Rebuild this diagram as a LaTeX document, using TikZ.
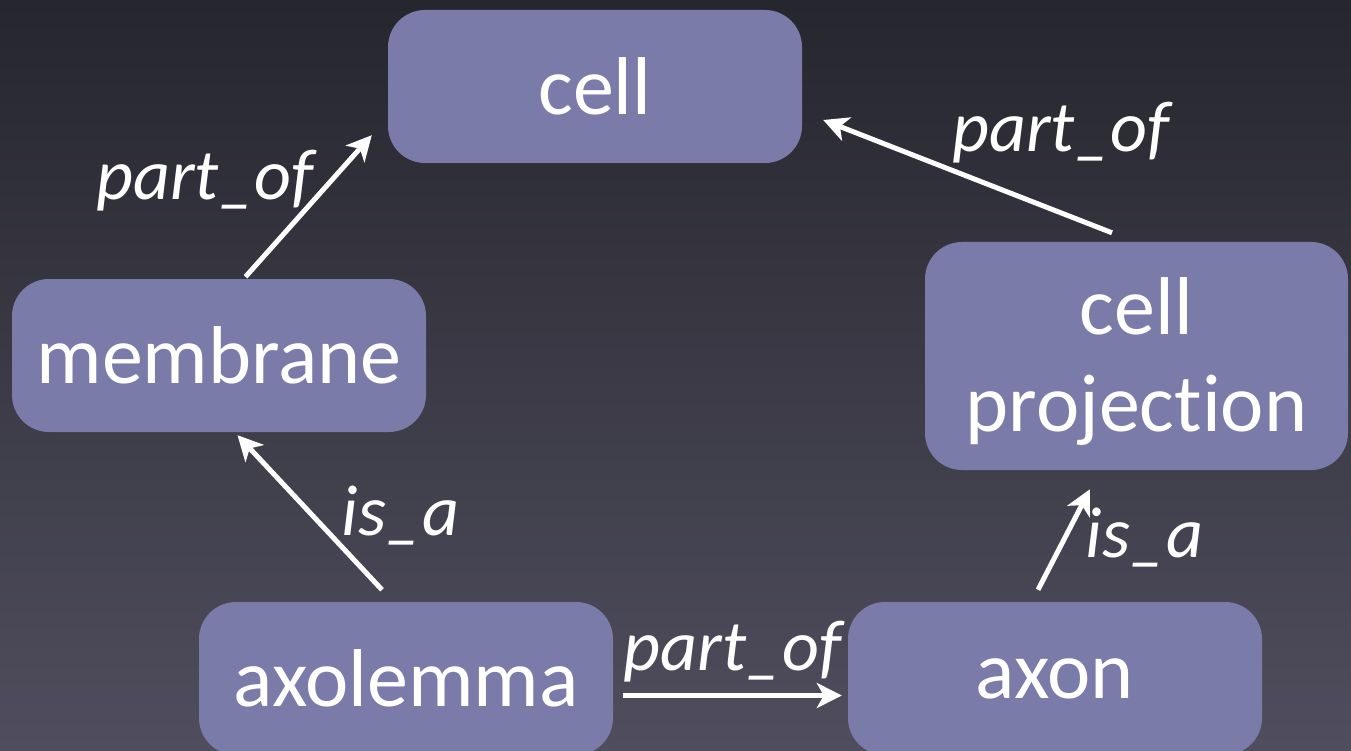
\documentclass[tikz,border=0pt]{standalone}
\usepackage{fontspec}
\setmainfont{Carlito}[Ligatures=NoCommon]
\usetikzlibrary{arrows.meta,calc}
\definecolor{boxfill}{RGB}{122,123,168}
\definecolor{bgtop}{RGB}{38,38,46}
\definecolor{bgbot}{RGB}{80,78,94}
\begin{document}
\begin{tikzpicture}[x=1pt,y=-1pt,
  box/.style={rectangle, rounded corners=37pt, fill=boxfill, text=white, inner sep=0pt,
    minimum width=414pt, minimum height=153pt, font=\fontsize{82}{97}\selectfont},
  boxtext/.style={text=white, inner sep=0pt, align=center, font=\fontsize{82}{97}\selectfont},
  rel/.style={text=white, inner sep=0pt, anchor=base, font=\fontsize{72}{90}\selectfont\itshape},
  arr/.style={draw=white, line width=5pt, -{Stealth[length=25pt,width=25pt,inset=7pt]}}]
\shade[top color=bgtop, bottom color=bgbot] (0,0) rectangle (1351,751);
\useasboundingbox (0,0) rectangle (1351,751);
\clip (0,0) rectangle (1351,751);

\node[box] (cell) at (595,86.5) {cell};
\node[box] (membrane) at (219,355.5) {membrane};
\node[box, minimum width=423pt, minimum height=228pt] (cellproj) at (1136.5,356) {};
\node[boxtext, anchor=north] (cellprojtext) at (1136.5,277) {cell\\projection};
\node[box] (axolemma) at (406,678.5) {axolemma};
\node[box] (axon) at (1055,678.5) {axon};

\draw[arr] ($(membrane.north)+(26.5,-2)$) -- ($(cell.south west)+(-16,-28)$);
\draw[arr] ($(cellproj.north)+(-24.5,-9)$) -- ($(cell.east)+(21,33.5)$);
\draw[arr] ($(axolemma.north)+(-24,-12)$) -- ($(membrane.south)+(18.5,3)$);
\draw[arr] ($(axolemma.east)+(10,17)$) -- ($(axon.west)+(-6,17)$);
\draw[arr] ($(axon.north)+(-17,-12)$) -- ($(cellproj.south)+(-46.5,19)$);

\node[rel] (l1) at (205,200) {part\_of};
\node[rel] (l2) at (1061,152) {part\_of};
\node[rel] (l3) at (732.5,670) {part\_of};
\node[rel] (l4) at (400.5,535) {is\_a};
\node[rel] (l5) at (1144.5,557) {is\_a};
\end{tikzpicture}
\end{document}
